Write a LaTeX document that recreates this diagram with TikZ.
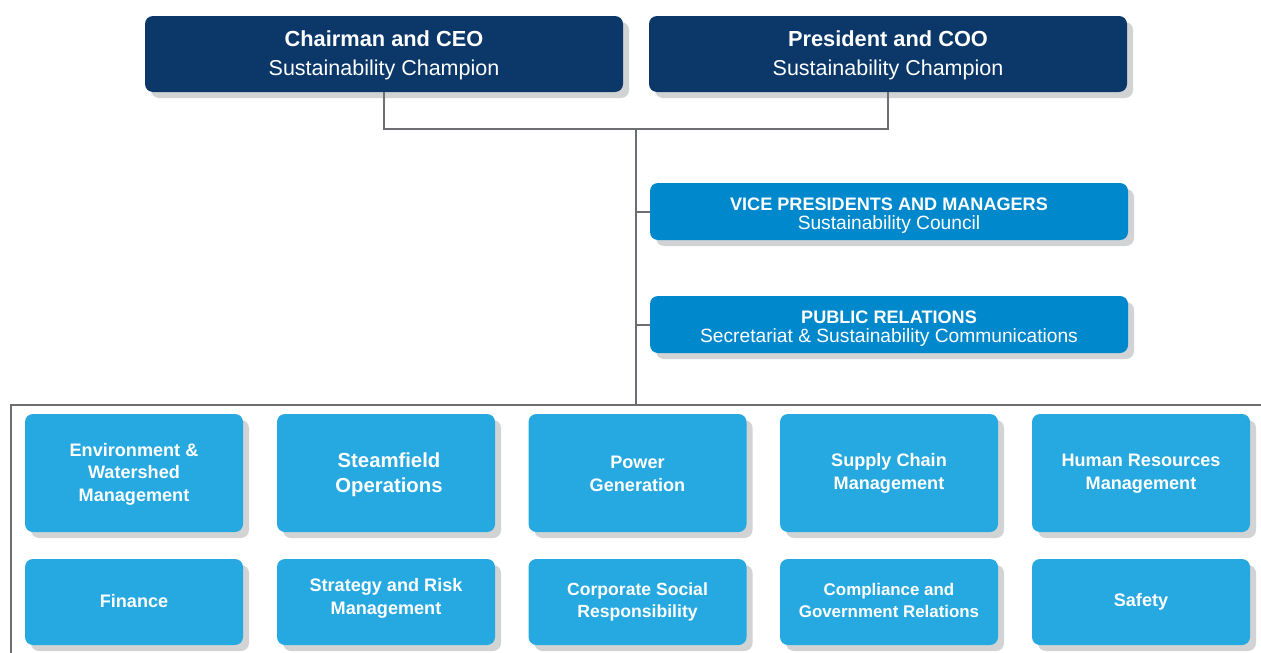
\documentclass[tikz,border=0pt]{standalone}
\usepackage{fontspec}
\setmainfont{Liberation Sans}
\usetikzlibrary{shadows}
\definecolor{navy}{HTML}{0B3769}
\definecolor{midblue}{HTML}{0088CC}
\definecolor{lightblue}{HTML}{26A9E0}
\definecolor{shade}{HTML}{D1D3D4}
\definecolor{linegray}{HTML}{6D6E71}
\begin{document}
\begin{tikzpicture}[x=1pt,y=-1pt,
  % the text block is measured from its last baseline, so "lift" sets its place
  card/.style={rounded corners=8pt, text=white, align=center, inner sep=0pt,
    text depth=0pt, general shadow={fill=shade, shadow xshift=6pt, shadow yshift=-6pt}},
  lift/.style={text height=#1},
  topcard/.style={card, fill=navy, minimum width=478pt, minimum height=76pt,
    font=\fontsize{21.5}{28.3}\selectfont, lift=42pt},
  councilcard/.style={card, fill=midblue, minimum width=478pt, minimum height=57pt,
    font=\fontsize{19.2}{19.5}\selectfont, lift=36pt},
  unitcard/.style={card, fill=lightblue, minimum width=218pt,
    font=\bfseries\fontsize{18.1}{22.7}\selectfont},
  tallcard/.style={unitcard, minimum height=118pt},
  lowcard/.style={unitcard, minimum height=86pt},
  link/.style={draw=linegray, line width=2pt}]
\useasboundingbox (0,0) rectangle (1261,653);

% leadership
\node[topcard] (ceo) at (384,54) {{\bfseries\fontsize{21.8}{28.3}\selectfont Chairman and CEO}\\Sustainability Champion};
\node[topcard] (coo) at (888,54) {{\bfseries\fontsize{21.8}{28.3}\selectfont President and COO}\\Sustainability Champion};

% councils
\node[councilcard] (vp) at (889,211.5) {{\bfseries\fontsize{18.1}{19.5}\selectfont VICE PRESIDENTS AND MANAGERS}\\Sustainability Council};
\node[councilcard] (pr) at (889,324.5) {{\bfseries\fontsize{18.1}{19.5}\selectfont PUBLIC RELATIONS}\\Secretariat \& Sustainability Communications};

% working groups, first row
\node[tallcard, lift=57pt] (env) at (134,473) {Environment \&\\Watershed\\Management};
\node[tallcard, lift=39pt, font=\bfseries\fontsize{20.3}{25}\selectfont] (steam) at (386,473) {\hspace*{6pt}Steamfield\\\hspace*{6pt}Operations};
\node[tallcard, lift=37pt] (power) at (637.5,473) {Power\\Generation};
\node[tallcard, lift=33pt] (supply) at (889,473) {Supply Chain\\Management};
\node[tallcard, lift=33pt] (hr) at (1141,473) {Human Resources\\Management};

% working groups, second row
\node[lowcard, lift=11pt] (fin) at (134,602) {Finance};
\node[lowcard, lift=25pt] (risk) at (386,602) {Strategy and Risk\\Management};
\node[lowcard, lift=30pt, font=\bfseries\fontsize{17.6}{22}\selectfont] (csr) at (637.5,602) {Corporate Social\\Responsibility};
\node[lowcard, lift=30pt, font=\bfseries\fontsize{16.9}{22}\selectfont] (gov) at (889,602) {Compliance and\\Government Relations};
\node[lowcard, lift=9pt] (safe) at (1141,602) {Safety};

% connectors
\coordinate (jn) at (636,129);
\coordinate (rail) at (636,405);
\coordinate (railL) at (11,405);
\coordinate (railR) at (1261,405);
\coordinate (railB) at (11,653);
\draw[link] (ceo.south) |- (jn) -| (coo.south);
\draw[link] (jn) -- (rail);
\draw[link] (vp.west) -- (vp.west -| jn);
\draw[link] (pr.west) -- (pr.west -| jn);
\draw[link] (railB) -- (railL) -- (railR);
\end{tikzpicture}
\end{document}
